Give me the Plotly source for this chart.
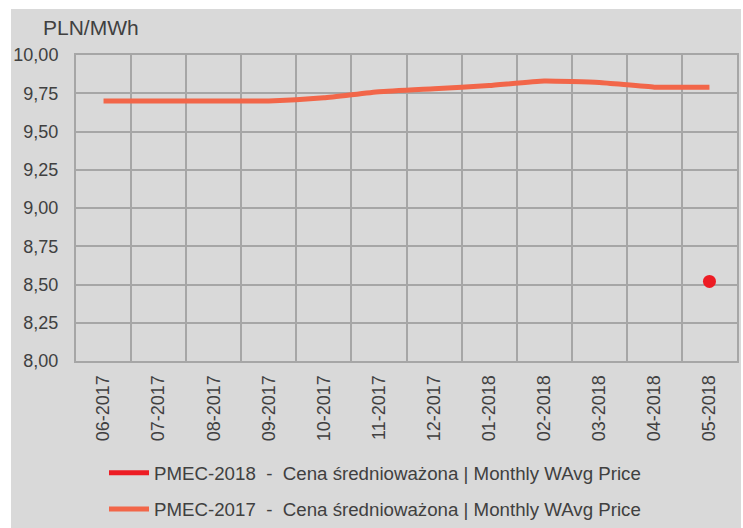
import plotly.graph_objects as go

months = ["06-2017", "07-2017", "08-2017", "09-2017", "10-2017", "11-2017",
          "12-2017", "01-2018", "02-2018", "03-2018", "04-2018", "05-2018"]
pmec_2017 = [9.70, 9.70, 9.70, 9.70, 9.72, 9.76, 9.78, 9.80, 9.83, 9.82, 9.79, 9.79]
months_2018 = ["05-2018"]
pmec_2018 = [8.52]
y_ticks = [8.00, 8.25, 8.50, 8.75, 9.00, 9.25, 9.50, 9.75, 10.00]

name18 = "PMEC-2018  -  Cena średnioważona | Monthly WAvg Price"
name17 = "PMEC-2017  -  Cena średnioważona | Monthly WAvg Price"

RED = "#ed1c24"
ORANGE = "#f26649"
GRID = "#a6a6a6"
TXT = "#404040"
BG = "#d9d9d9"

fig = go.Figure()
fig.add_trace(go.Scatter(x=months_2018, y=pmec_2018, mode="lines", name=name18,
                         line=dict(color=RED, width=5), legendgroup="a"))
fig.add_trace(go.Scatter(x=months_2018, y=pmec_2018, mode="markers", showlegend=False,
                         marker=dict(color=RED, size=13), legendgroup="a"))
fig.add_trace(go.Scatter(x=months, y=pmec_2017, mode="lines", name=name17,
                         line=dict(color=ORANGE, width=5, shape="spline", smoothing=0.4),
                         legendgroup="b"))

L, R, T, B = 76, 6, 55, 167
W = 743 - L - R
H = 528 - T - B

fig.add_shape(type="rect", xref="paper", yref="paper",
              x0=(11 - L) / W, x1=(741 - L) / W,
              y0=(H - (530 - T)) / H, y1=(H - (9 - T)) / H,
              fillcolor=BG, line=dict(width=0), layer="below")

fig.add_annotation(text="PLN/MWh", xref="paper", yref="paper",
                   x=(41 - L) / W, y=(H - (27 - T)) / H,
                   xanchor="left", yanchor="middle", showarrow=False,
                   font=dict(size=21, color=TXT, family="Liberation Sans, Arial"))

fig.update_layout(
    width=743, height=528,
    margin=dict(l=L, r=R, t=T, b=B, autoexpand=False),
    paper_bgcolor="white", plot_bgcolor=BG,
    separators=", ",
    font=dict(family="Liberation Sans, Arial", color=TXT, size=18),
    showlegend=True,
    legend=dict(x=(104 - L) / W, y=(H - (454 - T)) / H, xanchor="left", yanchor="top",
                bgcolor="rgba(0,0,0,0)", font=dict(size=18.7, color=TXT),
                traceorder="grouped", tracegroupgap=9, itemwidth=40),
)
fig.update_xaxes(type="category", categoryorder="array", categoryarray=months,
                 range=[-0.5, 11.5], tickangle=-90, tickson="boundaries",
                 showgrid=True, gridcolor=GRID, gridwidth=2, automargin=False,
                 showline=True, linecolor=GRID, linewidth=2, mirror=True,
                 ticks="", tickfont=dict(size=18, color=TXT), ticklabelstandoff=5)
fig.update_yaxes(range=[8, 10], tickvals=y_ticks, tickformat=".2f",
                 showgrid=True, gridcolor=GRID, gridwidth=2, automargin=False,
                 showline=True, linecolor=GRID, linewidth=2, mirror=True,
                 zeroline=False, ticks="", tickfont=dict(size=18, color=TXT),
                 ticklabelstandoff=12)

fig.write_html("out.html", config={"displayModeBar": False},
               post_script="document.body.style.margin='0';document.body.style.overflow='hidden';")
